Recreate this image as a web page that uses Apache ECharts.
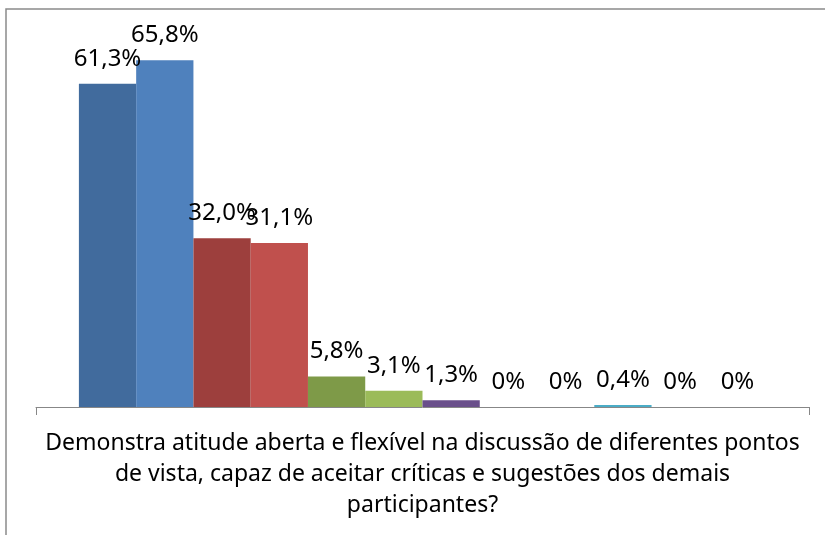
<!DOCTYPE html>
<html>
<head>
    <meta charset="utf-8">
    <title>ECharts</title>
    <script src="https://cdn.jsdelivr.net/npm/echarts@6/dist/echarts.min.js"></script>
    <style>
        html, body, #main {
            width: 100%;
            height: 100%;
            margin: 0;
            background: #fff;
        }
    </style>
</head>
<body>
    <div id="main"></div>
    <script type="text/javascript">
        // dados
        var categories = ['Demonstra atitude aberta e flexível na discussão de diferentes pontos\nde vista, capaz de aceitar críticas e sugestões dos demais\nparticipantes?'];
        var values = [61.3, 65.8, 32.0, 31.1, 5.8, 3.1, 1.3, 0, 0, 0.4, 0, 0];
        var colors = ['#416B9D', '#4F81BD', '#9D3F3D', '#C0504D', '#7E9A48', '#9BBB59',
                      '#6A4F8B', '#8064A2', '#3A94AC', '#4BACC6', '#D9822B', '#F79646'];

        var myChart = echarts.init(document.getElementById('main'));

        function fmt(p) {
            var v = p.value;
            if (v === 0) return '0%';
            return v.toFixed(1).replace('.', ',') + '%';
        }

        var series = [];
        for (var i = 0; i < values.length; i++) {
            series.push({
                type: 'bar',
                data: [values[i]],
                barGap: '0%',
                barCategoryGap: '11.1%',
                itemStyle: { color: colors[i] },
                label: {
                    show: true,
                    position: 'top',
                    distance: 13,
                    formatter: fmt,
                    color: '#000',
                    fontFamily: 'Noto Sans',
                    fontSize: 24
                }
            });
        }

        var option = {
            animation: false,
            textStyle: { fontFamily: 'Noto Sans' },
            graphic: [{
                type: 'rect',
                shape: { x: 6, y: 9, width: 900, height: 700 },
                style: { fill: 'none', stroke: '#8a8a8a', lineWidth: 1.5 }
            }],
            grid: { left: 36, right: 16, top: 38, bottom: 128 },
            xAxis: {
                type: 'category',
                data: categories,
                axisLine: { lineStyle: { color: '#878787', width: 1 } },
                axisTick: { show: true, length: 8, lineStyle: { color: '#878787' } },
                axisLabel: {
                    color: '#000',
                    fontSize: 23,
                    lineHeight: 31,
                    margin: 21,
                    align: 'center'
                }
            },
            yAxis: {
                type: 'value',
                min: 0,
                max: 70,
                show: false
            },
            series: series
        };
        myChart.setOption(option);
        window.onresize = myChart.resize;
    </script>
</body>
</html>
